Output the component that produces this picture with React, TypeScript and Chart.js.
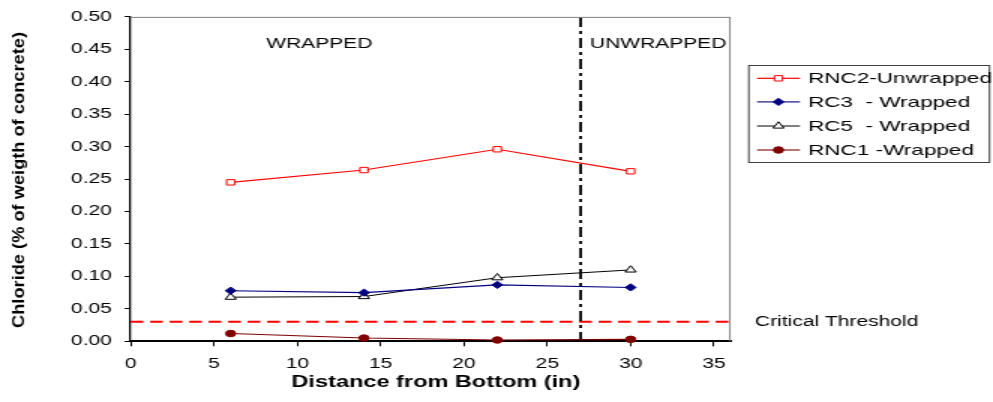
import React, { useEffect, useRef } from "react";
import { Chart, registerables } from "chart.js";

Chart.register(...registerables);

// ---- data ----
const DISTANCES = [6, 14, 22, 30];
const RNC2_UNWRAPPED = [0.245, 0.264, 0.296, 0.262];
const RC3_WRAPPED = [0.078, 0.075, 0.087, 0.083];
const RC5_WRAPPED = [0.068, 0.069, 0.098, 0.110];
const RNC1_WRAPPED = [0.012, 0.005, 0.002, 0.003];
const SERIES_NAMES = ["RNC2-Unwrapped", "RC3  - Wrapped", "RC5  - Wrapped", "RNC1 -Wrapped"];
const THRESHOLD = 0.03;
const BOUNDARY = 27;
const X_MIN = 0;
const X_MAX = 36;
const X_STEP = 5;
const Y_MIN = 0;
const Y_MAX = 0.5;
const Y_STEP = 0.05;
const X_TITLE = "Distance from Bottom (in)";
const Y_TITLE = "Chloride (% of weigth of concrete)";
const REGION_LABELS = ["WRAPPED", "UNWRAPPED"];
const THRESHOLD_LABEL = "Critical Threshold";

// ---- layout (canvas is drawn narrow and stretched horizontally like the reference) ----
const SX = 1.5;
const OUT_W = 993;
const OUT_H = 402;
const CW = Math.round(OUT_W / SX);
const CH = OUT_H;
const FONT = '"Liberation Sans", Arial, Helvetica, sans-serif';

const STYLES = [
  { color: "#FF0000", shape: "rect", radius: 3.8, fill: "#FFFFFF", width: 1.2 },
  { color: "#000080", shape: "rectRot", radius: 3.6, fill: "#000080", width: 1.1 },
  { color: "#000000", shape: "triangle", radius: 4.2, fill: "#FFFFFF", width: 1 },
  { color: "#800000", shape: "circle", radius: 3.3, fill: "#800000", width: 1.1 },
];

function drawMarker(ctx: CanvasRenderingContext2D, shape: string, x: number, y: number, r: number, stroke: string, fill: string) {
  ctx.save();
  ctx.beginPath();
  if (shape === "rect") {
    const s = Math.SQRT1_2 * r;
    ctx.rect(x - s, y - s, 2 * s, 2 * s);
  } else if (shape === "rectRot") {
    ctx.moveTo(x, y - r);
    ctx.lineTo(x + r, y);
    ctx.lineTo(x, y + r);
    ctx.lineTo(x - r, y);
    ctx.closePath();
  } else if (shape === "triangle") {
    ctx.moveTo(x, y - r);
    ctx.lineTo(x + r * Math.sin((2 * Math.PI) / 3), y - r * Math.cos((2 * Math.PI) / 3));
    ctx.lineTo(x + r * Math.sin((4 * Math.PI) / 3), y - r * Math.cos((4 * Math.PI) / 3));
    ctx.closePath();
  } else {
    ctx.arc(x, y, r, 0, Math.PI * 2);
  }
  ctx.fillStyle = fill;
  ctx.fill();
  ctx.strokeStyle = stroke;
  ctx.lineWidth = 1;
  ctx.stroke();
  ctx.restore();
}

const overlayPlugin = {
  id: "overlay",
  beforeDatasetsDraw(chart: any) {
    const ctx: CanvasRenderingContext2D = chart.ctx;
    const { left, right, top, bottom } = chart.chartArea;
    const xs = chart.scales.x;
    const ys = chart.scales.y;
    // threshold line
    const ty = ys.getPixelForValue(THRESHOLD);
    ctx.save();
    ctx.strokeStyle = "#FF0000";
    ctx.lineWidth = 2;
    ctx.setLineDash([8.5, 4.5]);
    ctx.beginPath();
    ctx.moveTo(left, ty);
    ctx.lineTo(right, ty);
    ctx.stroke();
    // boundary line
    const bx = xs.getPixelForValue(BOUNDARY);
    ctx.strokeStyle = "#000000";
    ctx.lineWidth = 1.8;
    ctx.setLineDash([10, 4, 3, 4]);
    ctx.beginPath();
    ctx.moveTo(bx, top);
    ctx.lineTo(bx, bottom);
    ctx.stroke();
    ctx.restore();
  },
  afterDraw(chart: any) {
    const ctx: CanvasRenderingContext2D = chart.ctx;
    const { left, right, top, bottom } = chart.chartArea;
    const ys = chart.scales.y;
    ctx.save();
    // gray frame top/right
    ctx.strokeStyle = "#808080";
    ctx.lineWidth = 1;
    ctx.beginPath();
    ctx.moveTo(left, top + 0.5);
    ctx.lineTo(right, top + 0.5);
    ctx.moveTo(right - 0.5, top);
    ctx.lineTo(right - 0.5, bottom);
    ctx.stroke();

    ctx.fillStyle = "#000000";
    ctx.textBaseline = "middle";
    ctx.textAlign = "left";
    ctx.font = `14px ${FONT}`;
    ctx.fillText(REGION_LABELS[0], 177.5, 44.5);
    ctx.fillText(REGION_LABELS[1], 393.3, 44.5);
    ctx.fillText(THRESHOLD_LABEL, 503.3, ys.getPixelForValue(THRESHOLD) + 0.5);

    // x title
    ctx.textAlign = "center";
    ctx.font = `bold 15.7px ${FONT}`;
    ctx.fillText(X_TITLE, (left + right) / 2 + 3.5, 382.5);

    // y title (rotated, compensate horizontal stretch)
    ctx.save();
    ctx.translate(16, 180);
    ctx.rotate(-Math.PI / 2);
    ctx.font = `bold 17.5px ${FONT}`;
    const w = ctx.measureText(Y_TITLE).width;
    ctx.scale(296 / w, 1 / SX);
    ctx.textAlign = "center";
    ctx.textBaseline = "alphabetic";
    ctx.fillText(Y_TITLE, 0, 0);
    ctx.restore();

    // legend
    const lx = 498.7, ly = 65, lw = 161.5, lh = 97;
    ctx.strokeStyle = "#404040";
    ctx.lineWidth = 1;
    ctx.strokeRect(lx + 0.5, ly + 0.5, lw - 1, lh);
    const rows = [78.3, 101.9, 126, 150];
    ctx.font = `15px ${FONT}`;
    ctx.textAlign = "left";
    ctx.textBaseline = "middle";
    SERIES_NAMES.forEach((name, i) => {
      const st = STYLES[i];
      const y = rows[i];
      ctx.strokeStyle = st.color;
      ctx.lineWidth = st.width;
      ctx.beginPath();
      ctx.moveTo(504.7, y);
      ctx.lineTo(533.3, y);
      ctx.stroke();
      drawMarker(ctx, st.shape, 519, y, st.radius, st.color, st.fill);
      ctx.fillStyle = "#000000";
      ctx.fillText(name, 538.7, y + 0.5);
    });
    ctx.restore();
  },
};

export default function App() {
  const ref = useRef<HTMLCanvasElement | null>(null);
  useEffect(() => {
    document.body.style.margin = "0";
    const canvas = ref.current;
    if (!canvas) return;
    const seriesValues = [RNC2_UNWRAPPED, RC3_WRAPPED, RC5_WRAPPED, RNC1_WRAPPED];
    const datasets = seriesValues.map((vals, i) => {
      const st = STYLES[i];
      return {
        label: SERIES_NAMES[i],
        data: DISTANCES.map((d, j) => ({ x: d, y: vals[j] })),
        borderColor: st.color,
        backgroundColor: st.fill,
        borderWidth: st.width,
        pointStyle: st.shape,
        pointRadius: st.radius,
        pointBorderWidth: 1,
        pointBorderColor: st.color,
        pointBackgroundColor: st.fill,
        tension: 0,
        clip: false,
      };
    });
    const chart = new Chart(canvas, {
      type: "line",
      data: { datasets },
      options: {
        responsive: false,
        devicePixelRatio: 1,
        animation: false,
        layout: { padding: { top: 14.3, right: CW - 487.1, left: 0, bottom: 0 } },
        plugins: { legend: { display: false }, tooltip: { enabled: false }, title: { display: false } },
        scales: {
          x: {
            type: "linear",
            min: X_MIN,
            max: X_MAX,
            afterFit: (s: any) => { s.height = CH - 341.3; },
            ticks: {
              stepSize: X_STEP,
              includeBounds: false,
              color: "#000000",
              font: { family: FONT, size: 14 },
              padding: 9.5,
              maxRotation: 0,
            },
            grid: { display: true, drawOnChartArea: false, drawTicks: true, tickLength: 5, color: "#000000", lineWidth: 1 },
            border: { display: true, color: "#000000", width: 2 },
          },
          y: {
            type: "linear",
            min: Y_MIN,
            max: Y_MAX,
            afterFit: (s: any) => { s.width = 87.1; },
            ticks: {
              stepSize: Y_STEP,
              color: "#000000",
              font: { family: FONT, size: 14 },
              padding: 8.5,
              callback: (v: any) => Number(v).toFixed(2),
            },
            grid: { display: true, drawOnChartArea: false, drawTicks: true, tickLength: 4, color: "#000000", lineWidth: 1 },
            border: { display: true, color: "#000000", width: 1.3 },
          },
        },
      } as any,
      plugins: [overlayPlugin],
    });
    return () => chart.destroy();
  }, []);
  return (
    <div style={{ position: "fixed", left: 0, top: 0, width: OUT_W, height: OUT_H, background: "#FFFFFF" }}>
      <canvas ref={ref} width={CW} height={CH} style={{ width: `${OUT_W}px`, height: `${OUT_H}px`, display: "block" }} />
    </div>
  );
}
